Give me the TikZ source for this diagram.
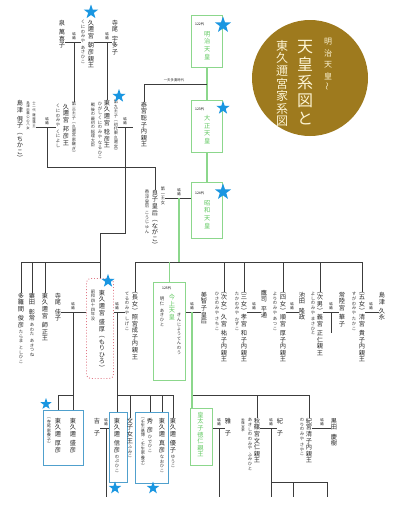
\documentclass[tikz,border=0pt]{standalone}
\usepackage{fontspec}
\usepackage{xcolor}
\usetikzlibrary{shapes.geometric,positioning}
\newfontfamily\jp{Noto Sans CJK JP}
\definecolor{lineclr}{RGB}{60,60,60}
\definecolor{grnline}{RGB}{140,215,140}
\definecolor{grntxt}{RGB}{95,200,95}
\definecolor{bluebox}{RGB}{80,160,205}
\definecolor{starblue}{RGB}{25,150,225}
\definecolor{pinkdot}{RGB}{225,120,135}
\definecolor{titlegold}{RGB}{158,122,30}
\definecolor{titletxt}{RGB}{252,243,210}
\newcommand\fnm{\jp\fontsize{6.2}{6.2}\selectfont}
\newcommand\fkana{\jp\fontsize{4.4}{4.4}\selectfont}
\newcommand\fnote{\jp\fontsize{4.2}{4.2}\selectfont}
\newcommand\ftiny{\jp\fontsize{3.4}{3.4}\selectfont}
% vertical text: one glyph per line, | gives a gap; \vtw takes the pitch
\makeatletter
\newcommand\vtw[2]{\vbox{\baselineskip=#1em\relax\lineskiplimit=-\maxdimen\lineskip=0pt
  \@tfor\vt@c:=#2\do{\vt@one}}}
\newcommand\vt[1]{\vtw{1.06}{#1}}
\def\vt@one{\ifx\vt@c\vt@gap\vskip.45em\relax\else\hbox to1em{\hss\vt@c\hss}\fi}
\def\vt@gap{|}
\makeatother
\tikzset{
  % texts
  nm/.style     = {font=\fnm, inner sep=0pt, anchor=north, text=black!85},
  kana/.style   = {font=\fkana, inner sep=0pt, anchor=north, text=black!80},
  note/.style   = {font=\fnote, inner sep=0pt, anchor=north, text=black!80},
  tny/.style    = {font=\ftiny, inner sep=0pt, anchor=north, text=black!80},
  kekkon/.style = {font=\ftiny, inner sep=0pt, anchor=south, yshift=2.5pt},
  dainum/.style = {font=\ftiny, inner sep=0pt, anchor=north west},
  ttl/.style    = {text=titletxt, inner sep=0pt, anchor=north},
  % lines
  kin/.style    = {draw=lineclr, line width=0.9pt},
  kingrn/.style = {draw=grnline, line width=1.3pt},
  % boxes
  embox/.style  = {draw=grnline, line width=1.2pt, anchor=north west, inner sep=0pt},
  bluebx/.style = {draw=bluebox, line width=0.9pt, anchor=north west, inner sep=0pt},
  dotbx/.style  = {draw=pinkdot, dotted, line width=0.9pt, rounded corners=4pt, anchor=north west, inner sep=0pt},
  starmk/.style = {star, star points=5, star point ratio=2.5, fill=starblue, inner sep=0pt},
}
\begin{document}
\begin{tikzpicture}[x=1pt,y=-1pt]
  \fill[white] (0,0) rectangle (400,514);
  \useasboundingbox (0,0) rectangle (400,514);
  % title
  \fill[titlegold] (310,78) circle[radius=58pt];
  \node[ttl, font=\jp\fontsize{8}{8}\selectfont] (ttl1) at (328,38) {\vtw{1.45}{明治天皇}};
  \node[ttl, font=\jp\fontsize{8}{8}\selectfont, anchor=center, rotate=90] (wave) at ([yshift=-6pt]ttl1.south) {～};
  \node[ttl, font=\jp\fontsize{16}{16}\selectfont] (ttl2) at (305,40) {\vtw{1.12}{天皇系図と}};
  \node[ttl, font=\jp\fontsize{12}{12}\selectfont] (ttl3) at (282,40) {\vtw{1.05}{東久邇宮家系図}};
  % emperors
  \node[embox, minimum width=31pt, minimum height=52pt] (meiji) at (191,15) {};
  \node[embox, minimum width=31pt, minimum height=52pt] (taisho) at (191,100) {};
  \node[embox, minimum width=31pt, minimum height=56pt] (showa) at (191,182) {};
  \node[dainum] (d122) at ([xshift=4pt,yshift=-7pt]meiji.north west) {122代};
  \node[dainum] (d123) at ([xshift=4pt,yshift=-7pt]taisho.north west) {123代};
  \node[dainum] (d124) at ([xshift=4pt,yshift=-9pt]showa.north west) {124代};
  \node[nm, text=grntxt] (meijin) at ([yshift=-16pt]meiji.north) {\vtw{1.25}{明治天皇}};
  \node[nm, text=grntxt] (taishon) at ([yshift=-15pt]taisho.north) {\vtw{1.25}{大正天皇}};
  \node[nm, text=grntxt] (showan) at ([yshift=-18pt]showa.north) {\vtw{1.25}{昭和天皇}};
  \draw[kingrn] (meiji.south) -- (taisho.north);
  \draw[kingrn] (taisho.south) -- (showa.north);
  % top row
  \node[nm] (izumi) at (62,20) {\vt{泉|萬喜子}};
  \node[nm] (asahiko) at (91,20) {\vt{久邇宮|朝彦親王}};
  \node[kana] (asahikok) at (83,20) {\vt{くにのみや|あさひこ}};
  \node[nm] (terao) at (115,20) {\vt{寺尾|宇多子}};
  \coordinate (m1) at (74,42);
  \coordinate (m2) at (107,42);
  \draw[kin] (izumi.east |- m1) -- (asahikok.west |- m1);
  \draw[kin] (asahiko.east |- m2) -- (terao.west |- m2);
  \node[kekkon] (k1) at (m1) {\vt{結婚}};
  \node[kekkon] (k2) at (m2) {\vt{結婚}};
  % second row
  \node[nm] (chikako) at (20,100) {\vt{島津|俔子︵ちかこ︶}};
  \node[tny] (chikakon1) at (34,101) {\vt{十二代|薩摩藩主}};
  \node[tny] (chikakon2) at (28,101) {\vt{島津忠義公の八女}};
  \node[note] (kuniyoshin) at (74,102) {\vt{第三王子︵久邇宮家継ぎ︶}};
  \node[nm] (kuniyoshi) at (66,104) {\vt{久邇宮|邦彦王}};
  \node[kana] (kuniyoshik) at (58,104) {\vt{くにのみや|くによし}};
  \node[note] (naruhikon) at (116,100) {\vt{第九王子︵初代東久邇宮︶}};
  \node[nm] (naruhiko) at (107,100) {\vt{東久邇宮|稔彦王}};
  \node[kana] (naruhikok) at (100,102) {\vt{ひがしくにのみや|なるひこ}};
  \node[note] (naruhikon2) at (93,103) {\vt{戦後の最初の総理大臣}};
  \node[nm] (toshiko) at (144,102) {\vt{泰宮聡子内親王}};
  \draw[kin] (m1) -- (kuniyoshin.north);
  \draw[kin] (m2) -- (naruhiko.north);
  \coordinate (j0) at (206.5,84);
  \draw[kin] (j0) -| (toshiko.north);
  \node[tny, anchor=south] (ippu) at (174,82) {一夫多妻時代};
  \coordinate (m3) at (47,127);
  \coordinate (m4) at (125,127);
  \draw[kin] (chikakon1.east |- m3) -- (kuniyoshik.west |- m3);
  \draw[kin] (naruhikon.east |- m4) -- ([xshift=-8pt]toshiko.west |- m4);
  \node[kekkon] (k3) at (m3) {\vt{結婚}};
  \node[kekkon] (k4) at (m4) {\vt{結婚}};
  % nagako
  \node[note] (nagakon) at (163,187) {\vt{第一王女}};
  \node[nm] (nagako) at (155,190) {\vt{良子皇后︵ながこ︶}};
  \node[kana] (nagakok) at (147,190) {\vt{香淳皇后|こうじゅん}};
  \coordinate (j3) at (47,167);
  \draw[kin] (m3) -- (j3) -| (nagako.north);
  \coordinate (m5) at (179,198);
  \draw[kin] (nagakon.east |- m5) -- (showa.west |- m5);
  \node[kekkon] (k5) at (m5) {\vt{結婚}};
  % showa children
  \node[nm] (shigeko) at (135,292) {\vt{︵長女︶照宮成子内親王}};
  \node[kana] (shigekok) at (127,292) {\vt{てるのみや|しげこ}};
  \node[embox, minimum width=32pt, minimum height=98pt] (akbox) at (153,282) {};
  \node[dainum] (d125) at ([xshift=9pt,yshift=-4pt]akbox.north west) {125代};
  \node[nm, text=grntxt] (akihito) at (172,294) {\vt{今上天皇}};
  \node[kana] (akihitok) at (162,297) {\vt{明仁|あきひと}};
  \node[kana] (akihitok2) at (179,313) {\vt{きんじょうてんのう}};
  \node[nm] (michiko) at (204,292) {\vt{美智子皇后}};
  \node[nm] (sachiko) at (224,292) {\vt{︵次女︶久宮|祐子内親王}};
  \node[kana] (sachikok) at (217,292) {\vt{ひさのみや|さちこ}};
  \node[nm] (kazuko) at (244,292) {\vt{︵三女︶孝宮|和子内親王}};
  \node[kana] (kazukok) at (237,292) {\vt{たかのみや|かずこ}};
  \node[nm] (taka) at (264,290) {\vt{鷹司|平通}};
  \node[nm] (atsuko) at (283,292) {\vt{︵四女︶順宮|厚子内親王}};
  \node[kana] (atsukok) at (275,292) {\vt{よりのみや|あつこ}};
  \node[nm] (ikeda) at (302,292) {\vt{池田|隆政}};
  \node[nm] (masahito) at (320,292) {\vt{︵次男︶義宮|正仁親王}};
  \node[kana] (masahitok) at (313,292) {\vt{よしのみや|まさひと}};
  \node[nm] (hanako) at (342,292) {\vt{常陸宮|華子}};
  \node[nm] (takako) at (362,292) {\vt{︵五女︶清宮|貴子内親王}};
  \node[kana] (takakok) at (354,292) {\vt{すがのみや|たかこ}};
  \node[nm] (hisanaga) at (382,292) {\vt{島津|久永}};
  \coordinate (sc) at (179,262);
  \draw[kin] (shigeko.north) |- (takako.north |- sc) -- (takako.north);
  \draw[kin] (sachiko.north) -- (sachiko.north |- sc);
  \draw[kin] (kazuko.north) -- (kazuko.north |- sc);
  \draw[kin] (atsuko.north) -- (atsuko.north |- sc);
  \draw[kin] (masahito.north) -- (masahito.north |- sc);
  \draw[kingrn] (m5) -- (sc);
  \draw[kingrn] (akbox.north) -- (akbox.north |- sc);
  \coordinate (m8) at (192,312);
  \coordinate (m9) at (254,312);
  \coordinate (m10) at (292,312);
  \coordinate (m11) at (331,312);
  \coordinate (m12) at (371,312);
  \draw[kin] (akbox.east |- m8) -- (michiko.west |- m8);
  \draw[kin] (kazuko.east |- m9) -- (taka.west |- m9);
  \draw[kin] (atsuko.east |- m10) -- (ikeda.west |- m10);
  \draw[kin] (masahito.east |- m11) -- (hanako.west |- m11);
  \draw[kin] (m11) -- ++(0,21);
  \draw[kin] (takako.east |- m12) -- (hisanaga.west |- m12);
  \foreach \m in {8,9,10,11,12}
    \node[kekkon] (k\m) at (m\m) {\vt{結婚}};
  % higashikuni children
  \node[nm] (tarama) at (21,293) {\vt{多羅間|俊彦}};
  \node[kana, below=1.5pt of tarama] (taramak) {\vt{たらま|としひこ}};
  \node[nm] (awata) at (32,293) {\vt{粟田|彰常}};
  \node[kana, below=1.5pt of awata] (awatak) {\vt{あわた|あきつね}};
  \node[nm] (moromasa) at (45,293) {\vt{東久邇宮|師正王}};
  \node[nm] (yoshiko) at (58,293) {\vt{寺尾|佳子}};
  \node[dotbx, minimum width=27pt, minimum height=100pt] (mbox) at (86,278) {};
  \node[nm] (morihiro) at (102,290) {\vt{東久邇宮|盛厚︵もりひろ︶}};
  \node[note] (morihiron) at (93,290) {\vt{昭和四十四年没}};
  \coordinate (j4) at (125,233);
  \coordinate (hk) at (99.5,262);
  \draw[kin] (m4) -- (j4) -| (mbox.north);
  \draw[kin] (tarama.north) |- (hk);
  \draw[kin] (awata.north) -- (awata.north |- hk);
  \draw[kin] (moromasa.north) -- (moromasa.north |- hk);
  \coordinate (m6) at (117,312);
  \coordinate (m7) at (73,312);
  \draw[kin] (mbox.east |- m6) -- (shigekok.west |- m6);
  \draw[kin] (yoshiko.east |- m7) -- (mbox.west |- m7);
  \node[kekkon] (k6) at (m6) {\vt{結婚}};
  \node[kekkon] (k7) at (m7) {\vt{結婚}};
  % grandchildren
  \node[bluebx, minimum width=40pt, minimum height=55pt] (boxA) at (43,410) {};
  \node[nm] (morihiko) at (73,418) {\vt{東久邇|盛彦}};
  \node[nm] (atsuhiko) at (58,418) {\vt{東久邇|厚彦}};
  \node[note] (atsuhikon) at (49,418) {\vt{︵寺尾家養子︶}};
  \node[nm] (yoshiko2) at (97,418) {\vt{吉||子}};
  \node[bluebx, minimum width=18pt, minimum height=70pt] (nbox) at (109,412) {};
  \node[nm] (nobuhiko) at (117,418) {\vt{東久邇|信彦}};
  \node[kana, below=1.5pt of nobuhiko] (nobuhikok) {\vt{のぶひこ}};
  \node[nm] (fumiko) at (130,418) {\vt{文子女王}};
  \node[kana, below=1.5pt of fumiko] (fumikok) {\vt{ふみこ}};
  \node[bluebx, minimum width=33pt, minimum height=71pt] (boxB) at (135,412) {};
  \node[nm] (hidehiko) at (150,418) {\vt{秀|彦}};
  \node[kana, below=1.5pt of hidehiko] (hidehikok) {\vt{ひでひこ}};
  \node[note] (hidehikon) at (143,418) {\vt{︵壬生基博・壬生家養子︶}};
  \node[nm] (naohiko) at (162,418) {\vt{東久邇|真彦}};
  \node[kana, below=1.5pt of naohiko] (naohikok) {\vt{なおひこ}};
  \node[nm] (yuko) at (173,418) {\vt{東久邇|優子}};
  \node[kana, below=1.5pt of yuko] (yukok) {\vt{ゆうこ}};
  \coordinate (ma) at (73,395);
  \coordinate (mc) at (117,395);
  \draw[kin] (m7) -- (m7 |- boxA.north);
  \draw[kin] (ma) -| (atsuhiko.north |- boxA.north);
  \draw[kin] (m6) |- (yuko.north |- mc) -- (yuko.north);
  \draw[kin] (mc) -- (mc |- nbox.north);
  \draw[kin] (fumiko.north) -- (fumiko.north |- mc);
  \draw[kin] (hidehiko.north |- mc) -- (hidehiko.north |- boxB.north);
  \draw[kin] (naohiko.north |- mc) -- (naohiko.north |- boxB.north);
  \coordinate (m13) at (106,428);
  \coordinate (e4) at (106,497);
  \draw[kin] (yoshiko2.east |- m13) -- (nbox.west |- m13);
  \draw[kin] (m13) -- (e4);
  \node[kekkon] (k13) at (m13) {\vt{結婚}};
  % akihito children
  \node[embox, minimum width=22pt, minimum height=57pt] (nrbox) at (190,408) {};
  \node[nm, text=grntxt] (naruhito) at (200.5,412) {\vt{皇太子徳仁親王}};
  \node[nm] (masako) at (228,418) {\vt{雅||子}};
  \node[nm] (fumihito) at (257,418) {\vt{秋篠宮文仁親王}};
  \node[kana] (fumihitok) at (250,418) {\vt{あきしののみや|ふみひと}};
  \node[tny] (fumihiton) at (243,418) {\vt{秋篠宮家}};
  \node[nm] (kiko) at (280,418) {\vt{紀||子}};
  \node[nm] (sayako) at (309,418) {\vt{紀宮清子内親王}};
  \node[kana] (sayakok) at (302,418) {\vt{のりのみや|さやこ}};
  \node[nm] (kuroda) at (334,418) {\vt{黒田|慶樹}};
  \coordinate (ac) at (192,395);
  \draw[kin] (ac) -| (sayako.north);
  \draw[kin] (fumihito.north) -- (fumihito.north |- ac);
  \draw[kingrn] (m8) -- (m8 |- nrbox.north);
  \coordinate (m14) at (219,428);
  \coordinate (m15) at (271,428);
  \coordinate (m16) at (322,428);
  \coordinate (e5) at (219,497);
  \coordinate (kc) at (271,482);
  \coordinate (e1) at (271,497);
  \coordinate (e2) at (293,497);
  \coordinate (e3) at (327,497);
  \draw[kin] (nrbox.east |- m14) -- (masako.west |- m14);
  \draw[kin] (m14) -- (e5);
  \draw[kin] (fumihito.east |- m15) -- (kiko.west |- m15);
  \draw[kin] (m15) -- (e1);
  \draw[kin] (kc) -| (e3);
  \draw[kin] (e2 |- kc) -- (e2);
  \draw[kin] (sayako.east |- m16) -- (kuroda.west |- m16);
  \foreach \m in {14,15,16}
    \node[kekkon] (k\m) at (m\m) {\vt{結婚}};
  % stars
  \node[starmk, minimum size=15pt] (st1) at (91,12) {};
  \node[starmk, minimum size=17pt] (st2) at (223,25) {};
  \node[starmk, minimum size=14pt] (st3) at (223,108) {};
  \node[starmk, minimum size=17pt] (st4) at (223,192) {};
  \node[starmk, minimum size=14pt] (st5) at (119,96) {};
  \node[starmk, minimum size=14pt] (st6) at (108,281) {};
  \node[starmk, minimum size=12pt] (st7) at (46,404) {};
  \node[starmk, minimum size=13pt] (st8) at (115,488) {};
  \node[starmk, minimum size=13pt] (st9) at (153,488) {};
\end{tikzpicture}
\end{document}
